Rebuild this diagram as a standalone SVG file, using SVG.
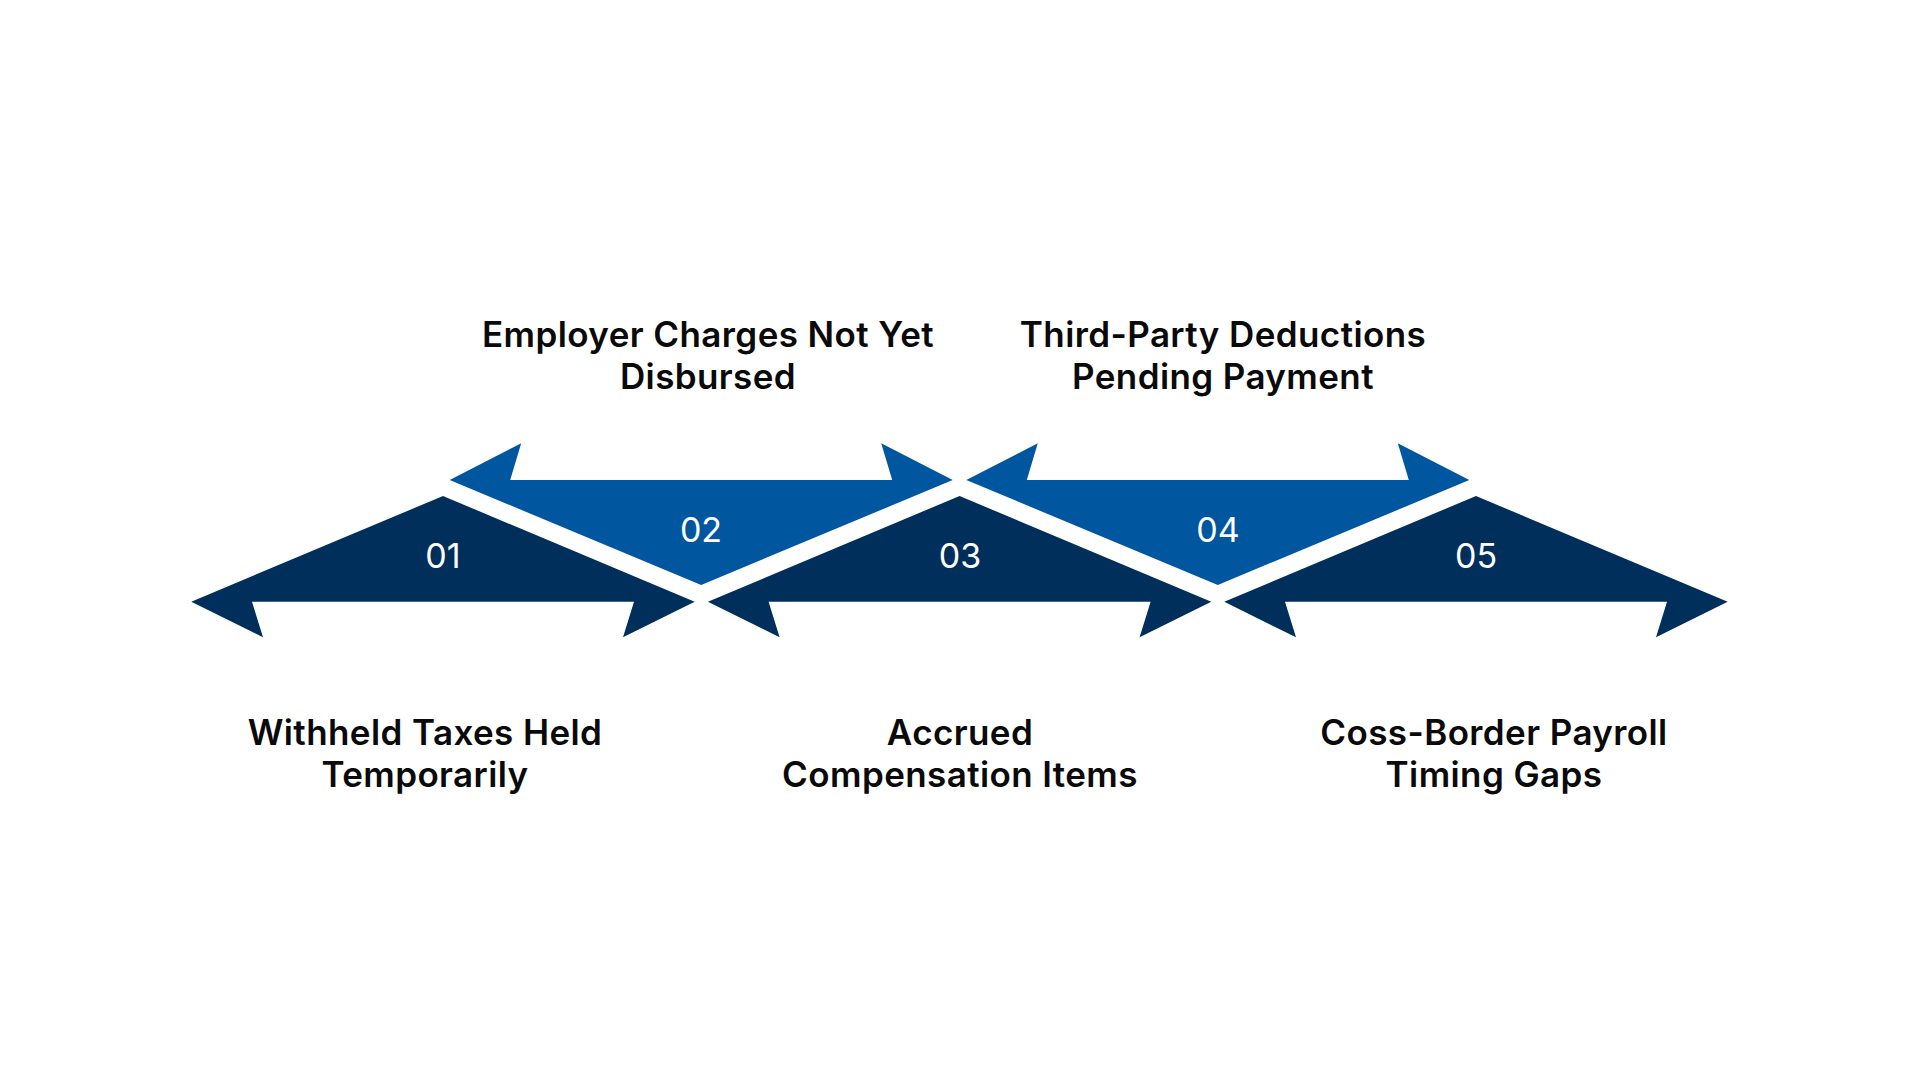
<svg xmlns="http://www.w3.org/2000/svg" xmlns:xlink="http://www.w3.org/1999/xlink" width="1920" height="1080" viewBox="0 0 1920 1080">
<style>
.dark{fill:#002F5B}
.blue{fill:#00579F}
.num{font-family:Inter,"Noto Sans","Liberation Sans",sans-serif;font-size:34px;font-weight:400;fill:#ffffff;text-anchor:middle}
.lbl{font-family:Inter,"Noto Sans","Liberation Sans",sans-serif;font-size:35px;font-weight:600;letter-spacing:0.4px;fill:#0a0a0a;text-anchor:middle}
</style>
<defs>
<path id="down" d="M0,496 L251.7,601.7 L180,637.3 L191,601.7 L-191,601.7 L-180,637.3 L-251.7,601.7 Z"/>
<path id="up" d="M0,585 L251.5,480 L180,443.3 L191,480 L-191,480 L-180,443.3 L-251.5,480 Z"/>
</defs>
<rect width="1920" height="1080" fill="#ffffff"/>
<g id="connectors"></g>
<g id="node-01">
<use xlink:href="#down" href="#down" x="443" class="dark"/>
<text class="num" x="443" y="568">01</text>
<text class="lbl" x="425" y="745">Withheld Taxes Held</text>
<text class="lbl" x="425" y="787">Temporarily</text>
</g>
<g id="node-02">
<use xlink:href="#up" href="#up" x="701.2" class="blue"/>
<text class="num" x="701" y="542">02</text>
<text class="lbl" x="708" y="347">Employer Charges Not Yet</text>
<text class="lbl" x="708" y="389">Disbursed</text>
</g>
<g id="node-03">
<use xlink:href="#down" href="#down" x="959.6" class="dark"/>
<text class="num" x="960" y="568">03</text>
<text class="lbl" x="960" y="745">Accrued</text>
<text class="lbl" x="960" y="787">Compensation Items</text>
</g>
<g id="node-04">
<use xlink:href="#up" href="#up" x="1217.8" class="blue"/>
<text class="num" x="1218" y="542">04</text>
<text class="lbl" x="1223" y="347">Third-Party Deductions</text>
<text class="lbl" x="1223" y="389">Pending Payment</text>
</g>
<g id="node-05">
<use xlink:href="#down" href="#down" x="1476" class="dark"/>
<text class="num" x="1476" y="568">05</text>
<text class="lbl" x="1494" y="745">Coss-Border Payroll</text>
<text class="lbl" x="1494" y="787">Timing Gaps</text>
</g>
</svg>
